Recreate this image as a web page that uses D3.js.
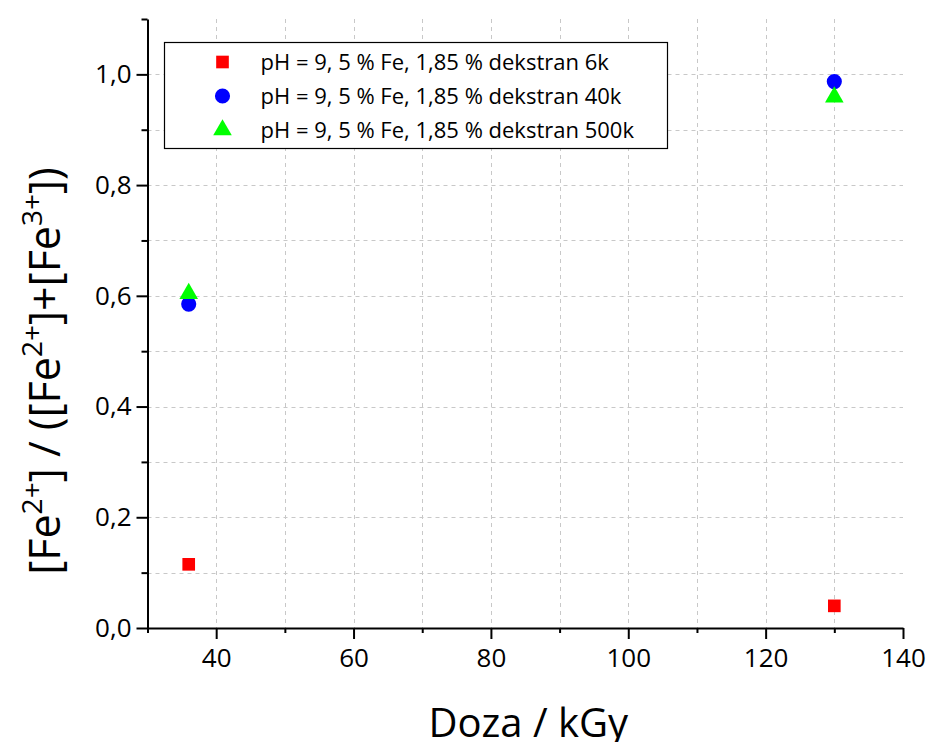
<!DOCTYPE html>
<html>
<head>
<meta charset="utf-8">
<script src="https://cdn.jsdelivr.net/npm/d3@7"></script>
<style>
  body { margin: 0; background: #fff; }
  svg { font-family: "Open Sans", "Noto Sans", sans-serif; }
</style>
</head>
<body>
<div id="chart"></div>
<script>
// data
const doses = [36, 130]
const series6k = [0.115, 0.040]
const series40k = [0.585, 0.987]
const series500k = [0.604, 0.959]
const seriesNames = [
    'pH = 9, 5 % Fe, 1,85 % dekstran 6k',
    'pH = 9, 5 % Fe, 1,85 % dekstran 40k',
    'pH = 9, 5 % Fe, 1,85 % dekstran 500k'
]
const xMajorTicks = [40, 60, 80, 100, 120, 140]
const xMinorTicks = [30, 50, 70, 90, 110, 130]
const yMajorTicks = [0, 0.2, 0.4, 0.6, 0.8, 1.0]
const yMinorTicks = [0.1, 0.3, 0.5, 0.7, 0.9, 1.1]

const width = 927
const height = 742

const svg = d3.select('#chart').append('svg')
    .attr('width', width)
    .attr('height', height)

const x = d3.scaleLinear().domain([30, 140]).range([147.5, 903])
const y = d3.scaleLinear().domain([0, 1.1]).range([628, 19])

const fmt = d => d3.format('.1f')(d).replace('.', ',')

// grid
const grid = svg.append('g').attr('class', 'grid')
    .style('stroke', '#c8c8c8')
    .style('stroke-dasharray', '4,4')
    .style('stroke-width', 1)

grid.selectAll('line.v')
    .data(xMajorTicks.concat(xMinorTicks).filter(d => d > 30 && d < 140))
    .enter().append('line')
        .attr('class', 'v')
        .attr('x1', d => Math.round(x(d)) + 0.5)
        .attr('x2', d => Math.round(x(d)) + 0.5)
        .attr('y1', y(1.1))
        .attr('y2', y(0))

grid.selectAll('line.h')
    .data(yMajorTicks.concat(yMinorTicks).filter(d => d > 0 && d < 1.1))
    .enter().append('line')
        .attr('class', 'h')
        .attr('x1', x(30))
        .attr('x2', x(140))
        .attr('y1', d => Math.round(y(d)) + 0.5)
        .attr('y2', d => Math.round(y(d)) + 0.5)

// axes
svg.append('g')
    .attr('transform', `translate(0,${y(0)})`)
    .call(d3.axisBottom(x).tickValues(xMajorTicks).tickSize(11).tickSizeOuter(0).tickPadding(10))
svg.append('g')
    .attr('transform', `translate(0,${y(0)})`)
    .call(d3.axisBottom(x).tickValues(xMinorTicks).tickSize(5).tickFormat(''))
    .select('.domain').remove()

svg.append('g')
    .attr('transform', `translate(${x(30)},0)`)
    .call(d3.axisLeft(y).tickValues(yMajorTicks).tickSize(11).tickSizeOuter(0).tickPadding(5).tickFormat(fmt))
svg.append('g')
    .attr('transform', `translate(${x(30)},0)`)
    .call(d3.axisLeft(y).tickValues(yMinorTicks).tickSize(6).tickFormat(''))
    .select('.domain').remove()

svg.selectAll('.domain, .tick line')
    .style('stroke', '#000')
    .style('stroke-width', 2)
svg.selectAll('.tick text')
    .style('font-size', '26px')
    .style('font-family', '"Open Sans", sans-serif')
    .attr('fill', '#000')

// axis titles
svg.append('text')
    .attr('x', (x(30) + x(140)) / 2 + 3)
    .attr('y', 737)
    .attr('text-anchor', 'middle')
    .style('font-size', '40px')
    .text('Doza / kGy')

const yTitle = svg.append('text')
    .attr('transform', 'translate(60,371) rotate(-90)')
    .attr('text-anchor', 'middle')
    .style('font-size', '43px')
yTitle.append('tspan').text('[Fe')
yTitle.append('tspan').attr('dy', -18).style('font-size', '28px').text('2+')
yTitle.append('tspan').attr('dy', 18).text('] / ([Fe')
yTitle.append('tspan').attr('dy', -18).style('font-size', '28px').text('2+')
yTitle.append('tspan').attr('dy', 18).text(']+[Fe')
yTitle.append('tspan').attr('dy', -18).style('font-size', '28px').text('3+')
yTitle.append('tspan').attr('dy', 18).text('])')

// markers
const symSquare = d3.symbol().type(d3.symbolSquare).size(160)
const symCircle = d3.symbol().type(d3.symbolCircle).size(180)
const symTriangle = d3.symbol().type(d3.symbolTriangle).size(150)

const seriesList = [
    {values: series6k, sym: symSquare, color: '#ff0000'},
    {values: series40k, sym: symCircle, color: '#0000ff'},
    {values: series500k, sym: symTriangle, color: '#00ff00'}
]

seriesList.forEach(function(s) {
    svg.append('g').selectAll('path')
        .data(s.values)
        .enter().append('path')
            .attr('transform', (d, i) => `translate(${x(doses[i])},${y(d)})`)
            .attr('d', s.sym())
            .attr('fill', s.color)
})

// legend
const legend = svg.append('g').attr('transform', 'translate(164.5,42.5)')
legend.append('rect')
    .attr('width', 503)
    .attr('height', 106)
    .attr('fill', '#fff')
    .attr('stroke', '#000')
    .attr('stroke-width', 1.2)

seriesList.forEach(function(s, i) {
    const rowY = 19.5 + i * 34
    legend.append('path')
        .attr('transform', `translate(58,${rowY})`)
        .attr('d', s.sym())
        .attr('fill', s.color)
    legend.append('text')
        .attr('x', 96)
        .attr('y', rowY)
        .attr('dy', '0.35em')
        .style('font-size', '22px')
        .text(seriesNames[i])
})
</script>
</body>
</html>
